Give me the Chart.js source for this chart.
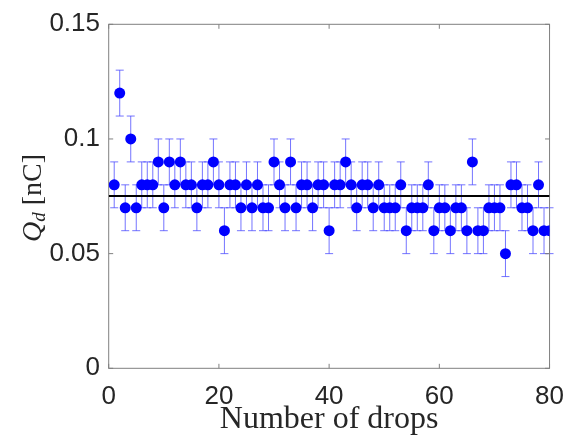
<!DOCTYPE html>
<html>
<head>
<meta charset="utf-8">
<script src="https://cdn.jsdelivr.net/npm/chart.js@4.4.1/dist/chart.umd.min.js"></script>
<style>
  html, body { margin: 0; padding: 0; background: #fff; }
  #miGrafico { display: block; }
</style>
</head>
<body>
<canvas id="miGrafico" width="577" height="439"></canvas>
<script>
// Datos: carga Q_d de cada gota (nC) con barra de error
const dropNumbers = [
  1, 2, 3, 4, 5, 6, 7, 8, 9, 10,
  11, 12, 13, 14, 15, 16, 17, 18, 19, 20,
  21, 22, 23, 24, 25, 26, 27, 28, 29, 30,
  31, 32, 33, 34, 35, 36, 37, 38, 39, 40,
  41, 42, 43, 44, 45, 46, 47, 48, 49, 50,
  51, 52, 53, 54, 55, 56, 57, 58, 59, 60,
  61, 62, 63, 64, 65, 66, 67, 68, 69, 70,
  71, 72, 73, 74, 75, 76, 77, 78, 79, 80
];
const qValues = [
  0.08, 0.12, 0.07, 0.10, 0.07, 0.08, 0.08, 0.08, 0.09, 0.07,
  0.09, 0.08, 0.09, 0.08, 0.08, 0.07, 0.08, 0.08, 0.09, 0.08,
  0.06, 0.08, 0.08, 0.07, 0.08, 0.07, 0.08, 0.07, 0.07, 0.09,
  0.08, 0.07, 0.09, 0.07, 0.08, 0.08, 0.07, 0.08, 0.08, 0.06,
  0.08, 0.08, 0.09, 0.08, 0.07, 0.08, 0.08, 0.07, 0.08, 0.07,
  0.07, 0.07, 0.08, 0.06, 0.07, 0.07, 0.07, 0.08, 0.06, 0.07,
  0.07, 0.06, 0.07, 0.07, 0.06, 0.09, 0.06, 0.06, 0.07, 0.07,
  0.07, 0.05, 0.08, 0.08, 0.07, 0.07, 0.06, 0.08, 0.06, 0.06
];
const qErrors = [
  0.01, 0.01, 0.01, 0.01, 0.01, 0.01, 0.01, 0.01, 0.01, 0.01,
  0.01, 0.01, 0.01, 0.01, 0.01, 0.01, 0.01, 0.01, 0.01, 0.01,
  0.01, 0.01, 0.01, 0.01, 0.01, 0.01, 0.01, 0.01, 0.01, 0.01,
  0.01, 0.01, 0.01, 0.01, 0.01, 0.01, 0.01, 0.01, 0.01, 0.01,
  0.01, 0.01, 0.01, 0.01, 0.01, 0.01, 0.01, 0.01, 0.01, 0.01,
  0.01, 0.01, 0.01, 0.01, 0.01, 0.01, 0.01, 0.01, 0.01, 0.01,
  0.01, 0.01, 0.01, 0.01, 0.01, 0.01, 0.01, 0.01, 0.01, 0.01,
  0.01, 0.01, 0.01, 0.01, 0.01, 0.01, 0.01, 0.01, 0.01, 0.01
];
const xTicks = [0, 20, 40, 60, 80];
const yTicks = [0, 0.05, 0.1, 0.15];

// promedio de todas las gotas (linea negra horizontal)
const promedio = qValues.reduce((a, b) => a + b, 0) / qValues.length;

const ejeColor = '#808080';
const textoColor = '#262626';

// caja, ticks hacia adentro, barras de error y titulos de los ejes
const cajaPlugin = {
  id: 'caja',
  beforeDatasetsDraw(chart) {
    const ctx = chart.ctx;
    const xs = chart.scales.x;
    const ys = chart.scales.y;
    const area = chart.chartArea;
    ctx.save();

    // barras de error
    ctx.strokeStyle = 'rgba(70, 70, 255, 0.75)';
    ctx.lineWidth = 1;
    for (let i = 0; i < qValues.length; i++) {
      const px = xs.getPixelForValue(dropNumbers[i]);
      const yTop = ys.getPixelForValue(qValues[i] + qErrors[i]);
      const yBot = ys.getPixelForValue(qValues[i] - qErrors[i]);
      const cap = 4;
      ctx.beginPath();
      ctx.moveTo(px, yTop);
      ctx.lineTo(px, yBot);
      ctx.moveTo(px - cap, yTop);
      ctx.lineTo(px + cap, yTop);
      ctx.moveTo(px - cap, yBot);
      ctx.lineTo(px + cap, yBot);
      ctx.stroke();
    }

    // caja
    ctx.strokeStyle = ejeColor;
    ctx.lineWidth = 1;
    ctx.strokeRect(area.left, area.top, area.right - area.left, area.bottom - area.top);

    // ticks hacia adentro
    const tl = 4.5;
    ctx.beginPath();
    xTicks.forEach(v => {
      const px = xs.getPixelForValue(v);
      ctx.moveTo(px, area.bottom);
      ctx.lineTo(px, area.bottom - tl);
      ctx.moveTo(px, area.top);
      ctx.lineTo(px, area.top + tl);
    });
    yTicks.forEach(v => {
      const py = ys.getPixelForValue(v);
      ctx.moveTo(area.left, py);
      ctx.lineTo(area.left + tl, py);
      ctx.moveTo(area.right, py);
      ctx.lineTo(area.right - tl, py);
    });
    ctx.stroke();
    ctx.restore();
  },
  afterDraw(chart) {
    const ctx = chart.ctx;
    const area = chart.chartArea;
    ctx.save();
    ctx.fillStyle = textoColor;

    // titulo eje x
    ctx.font = '32px "Liberation Serif"';
    ctx.textAlign = 'center';
    ctx.textBaseline = 'alphabetic';
    ctx.fillText('Number of drops', (area.left + area.right) / 2, 428);

    // titulo eje y: Q_d [nC]
    const fQ = 'italic 28px "Liberation Serif"';
    const fSub = 'italic 19px "Liberation Serif"';
    const fUnit = '28px "Liberation Serif"';
    ctx.font = fQ;
    const wQ = ctx.measureText('Q').width;
    ctx.font = fSub;
    const wD = ctx.measureText('d').width;
    ctx.font = fUnit;
    const wU = ctx.measureText(' [nC]').width;
    const total = wQ + wD + wU;
    ctx.translate(41, 198);
    ctx.rotate(-Math.PI / 2);
    ctx.textAlign = 'left';
    let x0 = -total / 2;
    ctx.font = fQ;
    ctx.fillText('Q', x0, 0);
    x0 += wQ;
    ctx.font = fSub;
    ctx.fillText('d', x0, 4);
    x0 += wD;
    ctx.font = fUnit;
    ctx.fillText(' [nC]', x0, 0);
    ctx.restore();
  }
};

const puntos = dropNumbers.map((n, i) => ({ x: n, y: qValues[i] }));

const ctx = document.getElementById('miGrafico').getContext('2d');
const myChart = new Chart(ctx, {
  type: 'scatter',
  data: {
    datasets: [
      {
        label: 'Q_d',
        data: puntos,
        backgroundColor: '#0000ff',
        borderWidth: 0,
        pointRadius: 5.5,
        order: 0,
      },
      {
        type: 'line',
        label: 'Promedio',
        data: [{ x: xTicks[0], y: promedio }, { x: xTicks[xTicks.length - 1], y: promedio }],
        borderColor: '#000000',
        borderWidth: 2,
        pointRadius: 0,
        fill: false,
        order: 1,
      },
    ],
  },
  plugins: [cajaPlugin],
  options: {
    responsive: false,
    animation: false,
    layout: { padding: { left: 0, right: 17.7, top: 23, bottom: 0 } },
    plugins: {
      legend: { display: false },
      tooltip: { enabled: false },
    },
    scales: {
      x: {
        type: 'linear',
        min: 0,
        max: 80,
        afterBuildTicks: (scale) => { scale.ticks = xTicks.map(v => ({ value: v })); },
        afterFit: (scale) => { scale.height = 70.7; },
        grid: { display: false, drawTicks: false },
        border: { display: false },
        ticks: {
          color: textoColor,
          font: { family: '"Liberation Sans", Arial, sans-serif', size: 26 },
          padding: 13,
          maxRotation: 0,
        },
      },
      y: {
        min: 0,
        max: 0.15,
        afterBuildTicks: (scale) => { scale.ticks = yTicks.map(v => ({ value: v })); },
        afterFit: (scale) => { scale.width = 108.7; },
        grid: { display: false, drawTicks: false },
        border: { display: false },
        ticks: {
          color: textoColor,
          font: { family: '"Liberation Sans", Arial, sans-serif', size: 26 },
          padding: 8.7,
          callback: (v) => String(parseFloat(Number(v).toFixed(2))),
        },
      },
    },
  },
});
</script>
</body>
</html>
